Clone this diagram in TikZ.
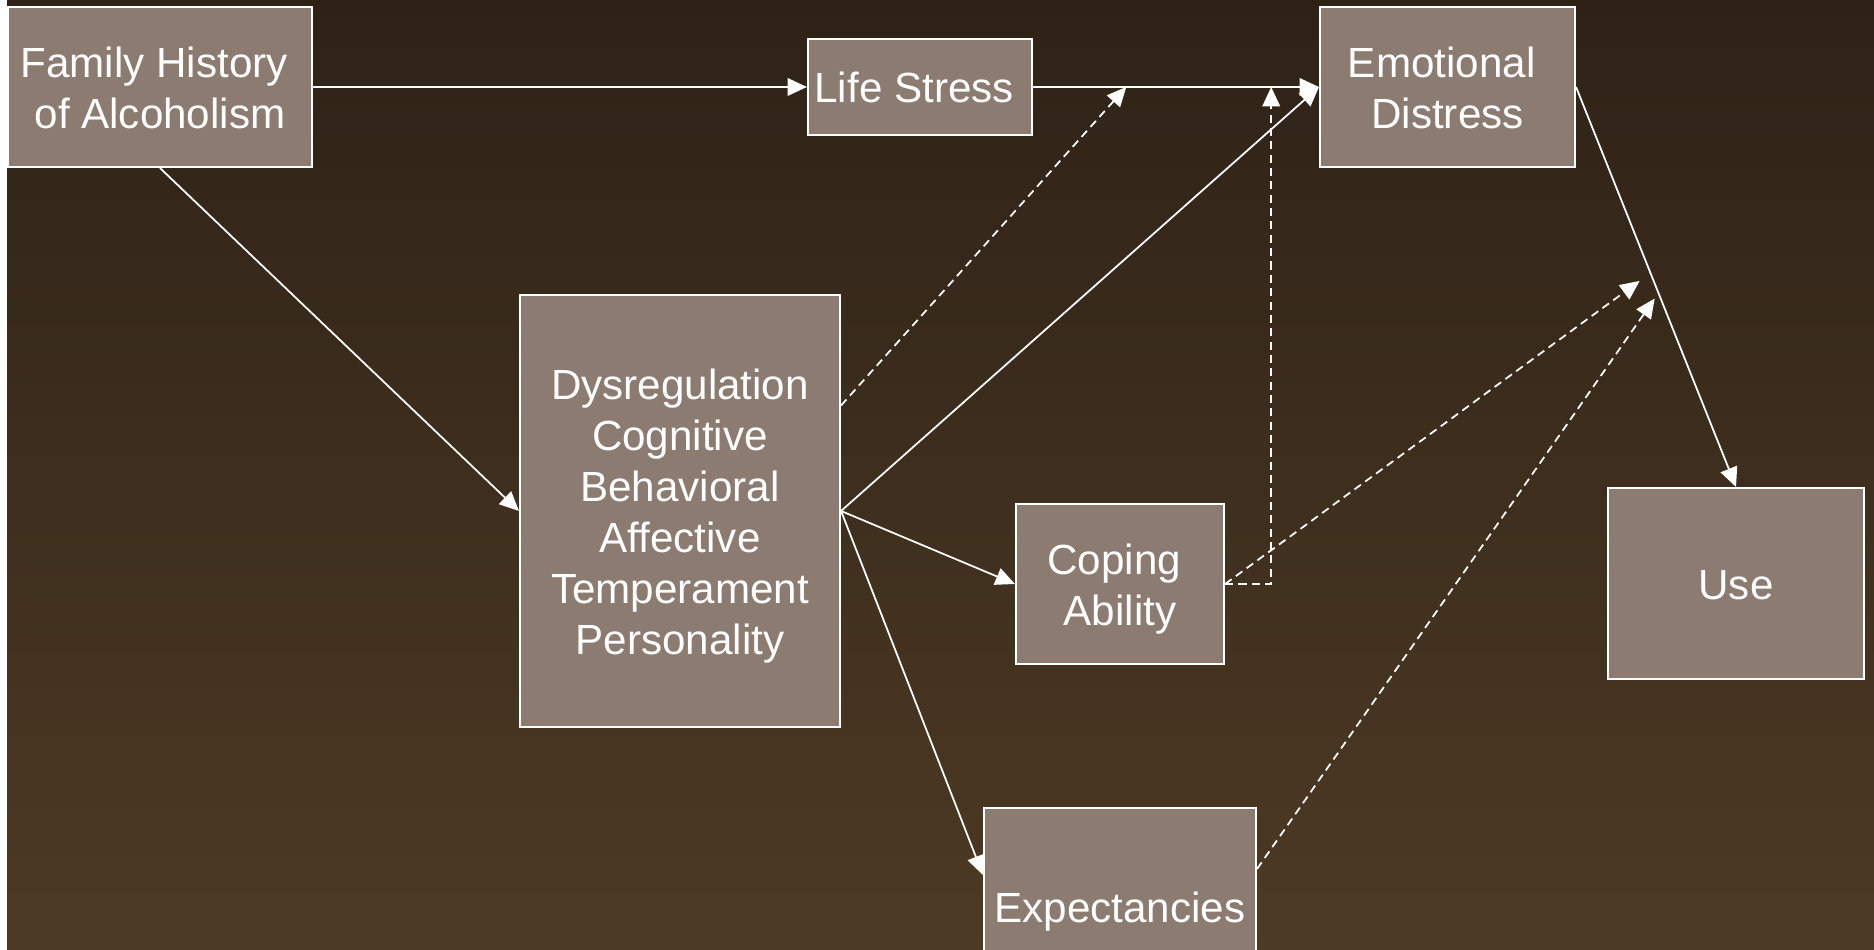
\documentclass[tikz,border=0pt]{standalone}
\usepackage{fontspec}
\setmainfont{Liberation Sans}
\usepackage{tikz}
\usetikzlibrary{arrows.meta,positioning,calc}

\definecolor{bgtop}{RGB}{46,34,23}
\definecolor{bgbottom}{RGB}{77,58,36}
\definecolor{boxfill}{RGB}{139,123,113}
\newcommand{\tsp}{\kern.278em}

\begin{document}
\begin{tikzpicture}
\tikzset{factor/.style={draw=white,line width=0.6pt,fill=boxfill,text=white,align=center,
  inner sep=0pt,font=\fontsize{12}{14.5}\selectfont,lines=1}}
\tikzset{lines/.style={text height={#1*14.5pt-2.75pt},text depth=2.75pt}}
\tikzset{path/.style={draw=white,line width=0.5pt,-{Triangle[length=5.5pt,width=5pt]}}}
\tikzset{moderation/.style={path,dash pattern=on 2.3pt off 1.5pt}}
\useasboundingbox (0,0) rectangle (18.74,9.5);
\clip (0,0) rectangle (18.74,9.5);
\shade[top color=bgtop,bottom color=bgbottom] (0.07,0) rectangle (18.74,9.5);
% factors
\node[factor,lines=2,minimum width=3.04cm,minimum height=1.6cm] (fam) at (1.6,8.63) {Family History\tsp\\of Alcoholism};
\node[factor,minimum width=2.24cm,minimum height=0.96cm] (ls) at (9.2,8.63) {Life Stress\tsp};
\node[factor,lines=2,minimum width=2.55cm,minimum height=1.6cm] (ed) at (14.475,8.63) {Emotional\tsp\\Distress};
\node[factor,lines=6,minimum width=3.2cm,minimum height=4.32cm] (dys) at (6.8,4.39)
  {Dysregulation\\Cognitive\\Behavioral\\Affective\\Temperament\\Personality};
\node[factor,lines=2,minimum width=2.08cm,minimum height=1.6cm] (cop) at (11.2,3.66) {Coping\tsp\\Ability};
\node[factor,minimum width=2.56cm,minimum height=1.91cm] (use) at (17.36,3.665) {Use};
\node[factor,minimum width=2.72cm,minimum height=1.98cm] (exp) at (11.2,0.43) {Expectancies};
% points where the moderating paths meet
\coordinate (m1) at ($(ls.east)!0.326!(ed.west)$);
\coordinate (m2) at ($(ls.east)!0.833!(ed.west)$);
\coordinate (m3) at ($(ed.east)!0.485!(use.north)+(-0.14,0)$);
\coordinate (m4) at ($(ed.east)!0.529!(use.north)+(-0.06,0)$);
\coordinate (d1) at ($(dys.north east)!0.257!(dys.south east)$);
\coordinate (e1) at ($(exp.north east)!0.31!(exp.south east)$);
\coordinate (e2) at ($(exp.north west)!0.34!(exp.south west)$);
% direct paths
\draw[path] (fam.east) -- (ls.west);
\draw[path] (ls.east) -- (ed.west);
\draw[path] (fam.south) -- (dys.west);
\draw[path] (dys.east) -- (ed.west);
\draw[path] (dys.east) -- (cop.west);
\draw[path] (dys.east) -- (e2);
\draw[path] (ed.east) -- (use.north);
% moderating paths
\draw[moderation] (d1) -- (m1);
\draw[moderation] (cop.east) -| (m2);
\draw[moderation] (cop.east) -- (m3);
\draw[moderation] (e1) -- (m4);
\end{tikzpicture}
\end{document}
